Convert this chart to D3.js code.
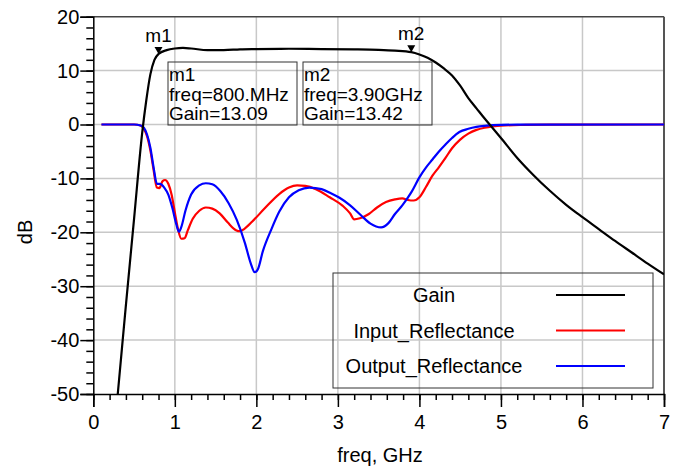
<!DOCTYPE html>
<meta charset="utf-8">
<style>
body { margin: 0; background: #fff; }
text { font-family: "Liberation Sans", Arial, sans-serif; fill: #000; }
.grid line { stroke: #c8c8c8; stroke-width: 1.5; }
.curve { fill: none; stroke-width: 2.2; }
</style>
<body>
<script src="https://d3js.org/d3.v7.min.js"></script>
<script>

// --- data (freq in GHz, value in dB) ---
var gainFreq = [0.25, 0.3, 0.4, 0.5, 0.6, 0.65, 0.7, 0.75, 0.8, 0.9, 1.0, 1.1, 1.2, 1.4, 1.6, 1.8, 2.0, 2.4, 2.8, 3.2, 3.5, 3.7, 3.9, 4.0, 4.1, 4.2, 4.3, 4.4, 4.5, 4.6, 4.7, 4.8, 4.9, 5.0, 5.2, 5.4, 5.6, 5.8, 6.0, 6.2, 6.4, 6.6, 6.8, 7.0];
var gainDb   = [-58, -50, -33.5, -17.5, -1.5, 4.5, 9.3, 12.0, 13.09, 13.8, 14.1, 14.2, 14.1, 13.8, 13.8, 13.95, 14.0, 14.05, 14.0, 13.95, 13.85, 13.7, 13.42, 13.0, 12.4, 11.5, 10.4, 9.1, 7.2, 4.9, 3.0, 1.1, -0.7, -2.5, -6.2, -9.4, -12.3, -14.9, -17.2, -19.4, -21.6, -23.7, -25.8, -27.8];

var inFreq = [0.1, 0.3, 0.5, 0.58, 0.62, 0.66, 0.7, 0.74, 0.78, 0.81, 0.85, 0.88, 0.92, 0.96, 1.0, 1.04, 1.08, 1.12, 1.16, 1.22, 1.3, 1.38, 1.46, 1.55, 1.65, 1.75, 1.8, 1.85, 1.95, 2.1, 2.28, 2.4, 2.5, 2.6, 2.73, 2.9, 3.06, 3.15, 3.2, 3.27, 3.38, 3.48, 3.59, 3.7, 3.79, 3.86, 3.93, 4.0, 4.08, 4.16, 4.24, 4.32, 4.4, 4.5, 4.6, 4.7, 4.8, 4.9, 5.0, 5.3, 5.7, 7.0];
var inDb   = [0, 0, 0, -0.2, -0.8, -2.2, -4.8, -8.5, -11.7, -11.8, -10.5, -10.3, -11, -13, -16.3, -19.5, -21.2, -21.1, -19.6, -17.5, -16, -15.4, -15.6, -16.5, -18.2, -19.6, -19.8, -19.4, -18, -15.6, -12.9, -11.7, -11.3, -11.4, -12, -13.5, -15.1, -16.5, -17.6, -17.4, -16.6, -15.4, -14.4, -13.9, -13.7, -14.0, -14.1, -13.5, -11.6, -9.5, -7.9, -6.2, -4.4, -2.8, -1.7, -1.0, -0.6, -0.35, -0.2, -0.08, -0.02, 0];

var outFreq = [0.1, 0.3, 0.5, 0.58, 0.62, 0.66, 0.7, 0.74, 0.78, 0.82, 0.87, 0.92, 0.97, 1.02, 1.05, 1.08, 1.13, 1.2, 1.3, 1.38, 1.46, 1.56, 1.66, 1.76, 1.86, 1.93, 1.98, 2.02, 2.08, 2.18, 2.28, 2.4, 2.52, 2.65, 2.8, 2.92, 3.02, 3.15, 3.28, 3.4, 3.53, 3.62, 3.7, 3.79, 3.9, 4.0, 4.08, 4.16, 4.24, 4.32, 4.4, 4.49, 4.6, 4.7, 4.8, 4.9, 5.2, 7.0];
var outDb   = [0, 0, 0, -0.2, -0.6, -1.9, -4.3, -8.0, -11, -11, -11.7, -13, -15.5, -18.6, -19.9, -19, -16, -13, -11.3, -10.9, -11.1, -12.4, -14.6, -17.7, -22, -25.7, -27.4, -26.8, -23.5, -19.6, -16.2, -13.5, -12.2, -11.7, -12, -12.8, -13.6, -15, -16.8, -18.4, -19.1, -18.3, -16.6, -15, -12.6, -9.8, -8.0, -6.5, -5.0, -3.7, -2.5, -1.4, -0.8, -0.45, -0.25, -0.12, -0.03, 0];

var seriesNames  = ["Gain", "Input_Reflectance", "Output_Reflectance"];
var seriesColors = ["#000000", "#ff0000", "#0000ff"];

var markerNames = ["m1", "m2"];
var markerFreq  = [0.8, 3.9];
var markerGain  = [13.09, 13.42];
var markerFreqText = ["800.MHz", "3.90GHz"];

var xTicks = [0, 1, 2, 3, 4, 5, 6, 7];
var yTicks = [20, 10, 0, -10, -20, -30, -40, -50];

// --- layout ---
var W = 680, H = 466;
var pl = 93.3, pr = 664, pt = 16.7, pb = 394;

var x = d3.scaleLinear().domain([0, 7]).range([pl, pr]);
var y = d3.scaleLinear().domain([-50, 20]).range([pb, pt]);

var svg = d3.select("body").append("svg")
    .attr("width", W)
    .attr("height", H);

svg.append("defs").append("clipPath").attr("id", "plotclip")
  .append("rect")
    .attr("x", pl).attr("y", pt)
    .attr("width", pr - pl).attr("height", pb - pt);

// grid
var grid = svg.append("g").attr("class", "grid");
grid.selectAll("line.v")
    .data(xTicks.slice(1, -1))
  .enter().append("line")
    .attr("x1", function(d) { return x(d); }).attr("x2", function(d) { return x(d); })
    .attr("y1", pt).attr("y2", pb);
grid.selectAll("line.h")
    .data(yTicks.slice(1, -1))
  .enter().append("line")
    .attr("y1", function(d) { return y(d); }).attr("y2", function(d) { return y(d); })
    .attr("x1", pl).attr("x2", pr);

// frame (top and right)
svg.append("line").attr("x1", pl).attr("x2", pr).attr("y1", pt).attr("y2", pt)
    .attr("stroke", "#444").attr("stroke-width", 1.5);
svg.append("line").attr("x1", pr).attr("x2", pr).attr("y1", pt).attr("y2", pb)
    .attr("stroke", "#555").attr("stroke-width", 2);

// plain hyphen minus, like the original
var fmt = function(d) { return String(d); };

// axes: major + minor ticks
var xAxis = svg.append("g").attr("transform", "translate(0," + pb + ")");
xAxis.call(d3.axisBottom(x).tickValues(d3.range(0, 7.01, 0.2)).tickSize(6).tickFormat(""))
    .call(function(g) { g.select(".domain").remove(); });
xAxis.append("g")
    .call(d3.axisBottom(x).tickValues(xTicks).tickSize(13).tickPadding(8).tickFormat(fmt))
    .call(function(g) {
      g.select(".domain").attr("stroke-width", 1.5);
      g.selectAll("text").style("font-size", "20px").attr("font-family", null);
    });

var yAxis = svg.append("g").attr("transform", "translate(" + pl + ",0)");
yAxis.call(d3.axisLeft(y).tickValues(d3.range(-50, 20.01, 2)).tickSize(7).tickFormat(""))
    .call(function(g) { g.select(".domain").remove(); });
yAxis.append("g")
    .call(d3.axisLeft(y).tickValues(yTicks).tickSize(13).tickPadding(1).tickFormat(fmt))
    .call(function(g) {
      g.select(".domain").attr("stroke-width", 1.5);
      g.selectAll("text").style("font-size", "20px").attr("font-family", null);
    });

svg.selectAll(".tick line").attr("stroke-width", 1.5);

// axis titles
svg.append("text")
    .attr("transform", "translate(32,232) rotate(-90)")
    .attr("text-anchor", "middle")
    .style("font-size", "20px")
    .text("dB");
svg.append("text")
    .attr("x", 380).attr("y", 462)
    .attr("text-anchor", "middle")
    .style("font-size", "20px")
    .text("freq, GHz");

// curves
var line = d3.line()
    .x(function(d) { return x(d[0]); })
    .y(function(d) { return y(d[1]); })
    .curve(d3.curveMonotoneX);

var series = [d3.zip(gainFreq, gainDb), d3.zip(inFreq, inDb), d3.zip(outFreq, outDb)];
var plot = svg.append("g").attr("clip-path", "url(#plotclip)");
// draw red first, then blue, then black
[1, 2, 0].forEach(function(i) {
  plot.append("path")
      .datum(series[i])
      .attr("class", "curve")
      .attr("stroke", seriesColors[i])
      .attr("d", line);
});

// markers
markerNames.forEach(function(name, i) {
  var mx = x(markerFreq[i]), my = y(markerGain[i]);
  svg.append("path")
      .attr("d", "M" + (mx - 4) + "," + (my - 7) + "L" + (mx + 4) + "," + (my - 7) + "L" + mx + "," + my + "Z")
      .attr("fill", "#000");
  svg.append("text")
      .attr("x", mx).attr("y", my - 12)
      .attr("text-anchor", "middle")
      .style("font-size", "19px")
      .text(name);
});

// marker readout boxes
var boxX = [168, 303], boxW = 129, boxY = 62, boxH = 63;
markerNames.forEach(function(name, i) {
  var g = svg.append("g").attr("transform", "translate(" + boxX[i] + "," + boxY + ")");
  g.append("rect").attr("width", boxW).attr("height", boxH)
      .attr("fill", "none").attr("stroke", "#333").attr("stroke-width", 1);
  var lines = [name, "freq=" + markerFreqText[i], "Gain=" + markerGain[i].toFixed(2)];
  g.selectAll("text")
      .data(lines)
    .enter().append("text")
      .attr("x", 1)
      .attr("y", function(d, j) { return 19 + j * 19.5; })
      .style("font-size", "19px")
      .text(function(d) { return d; });
});

// legend
var lg = svg.append("g");
lg.append("rect").attr("x", 333).attr("y", 273).attr("width", 320).attr("height", 115)
    .attr("fill", "none").attr("stroke", "#333").attr("stroke-width", 1);
seriesNames.forEach(function(name, i) {
  var ly = 295 + i * 35.5;
  lg.append("text")
      .attr("x", 434).attr("y", ly + 7)
      .attr("text-anchor", "middle")
      .style("font-size", "20px")
      .text(name);
  lg.append("line")
      .attr("x1", 556).attr("x2", 625).attr("y1", ly).attr("y2", ly)
      .attr("stroke", seriesColors[i]).attr("stroke-width", 2.2);
});

</script>
</body>
